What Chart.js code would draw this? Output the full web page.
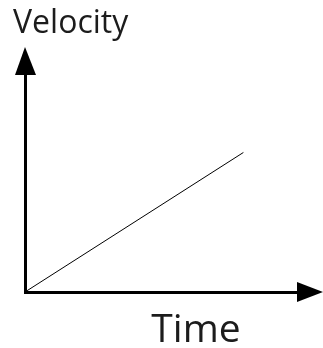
<!DOCTYPE html>
<html>
<head>
<meta charset="utf-8">
<script src="https://cdn.jsdelivr.net/npm/chart.js@4.4.1/dist/chart.umd.min.js"></script>
<style>
  html, body { margin: 0; padding: 0; background: #fff; }
  #wrap { width: 323px; height: 348px; }
</style>
</head>
<body>
<div id="wrap"><canvas id="myChart"></canvas></div>
<script>
// velocity grows linearly with time (no units in the original sketch)
const timeValues = [0, 8];
const velocityValues = [0, 6.4];
const xLabel = 'Time';
const yLabel = 'Velocity';

document.addEventListener("DOMContentLoaded", function() {
    const ctx = document.getElementById('myChart').getContext('2d');

    // arrowheads on the axes plus the two axis captions
    const axisArrows = {
        id: 'axisArrows',
        afterDraw(chart) {
            const a = chart.chartArea;
            const c = chart.ctx;
            c.save();
            c.fillStyle = '#000';
            // y arrow
            c.beginPath();
            c.moveTo(a.left, a.top - 27);
            c.lineTo(a.left - 10, a.top + 1);
            c.lineTo(a.left + 11, a.top + 1);
            c.closePath();
            c.fill();
            // x arrow
            c.beginPath();
            c.moveTo(a.right + 25, a.bottom);
            c.lineTo(a.right - 1, a.bottom - 10);
            c.lineTo(a.right - 1, a.bottom + 10);
            c.closePath();
            c.fill();

            c.fillStyle = '#1c1c1c';
            c.textBaseline = 'alphabetic';
            c.font = '32px "Open Sans"';
            c.textAlign = 'left';
            c.fillText(yLabel, a.left - 12, a.top - 41);
            c.font = '39px "Open Sans"';
            c.textAlign = 'center';
            c.fillText(xLabel, a.left + 171, a.bottom + 50);
            c.restore();
        }
    };

    const data = {
        datasets: [{
            label: yLabel,
            data: timeValues.map((t, i) => ({ x: t, y: velocityValues[i] })),
            borderColor: '#000',
            borderWidth: 1,
            pointRadius: 0,
            fill: false,
            tension: 0
        }]
    };

    const options = {
        responsive: true,
        maintainAspectRatio: false,
        animation: false,
        layout: {
            padding: { left: 25, right: 25, top: 74, bottom: 56 }
        },
        scales: {
            x: {
                type: 'linear',
                min: 0,
                max: 10,
                grid: { display: false, drawTicks: false, tickLength: 0 },
                ticks: { display: false, padding: 0 },
                border: { display: true, color: '#000', width: 3 }
            },
            y: {
                min: 0,
                max: 10,
                grid: { display: false, drawTicks: false, tickLength: 0 },
                ticks: { display: false, padding: 0 },
                border: { display: true, color: '#000', width: 3 }
            }
        },
        plugins: {
            legend: { display: false },
            tooltip: { enabled: false }
        }
    };

    new Chart(ctx, {
        type: 'line',
        data: data,
        options: options,
        plugins: [axisArrows]
    });
});
</script>
</body>
</html>
